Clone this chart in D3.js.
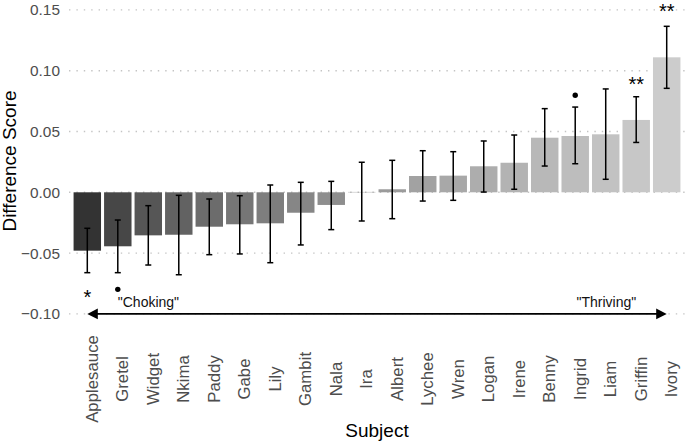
<!DOCTYPE html>
<html>
<head>
<meta charset="utf-8">
<script src="https://cdn.jsdelivr.net/npm/d3@7"></script>
<style>
  html, body { margin: 0; padding: 0; background: #fff; }
  svg { display: block; font-family: "Liberation Sans", Arial, Helvetica, sans-serif; }
</style>
</head>
<body>
<svg id="chart" width="685" height="444"></svg>
<script>
// ---- data ----
const subjects = ["Applesauce","Gretel","Widget","Nkima","Paddy","Gabe","Lily","Gambit","Nala","Ira",
                  "Albert","Lychee","Wren","Logan","Irene","Benny","Ingrid","Liam","Griffin","Ivory"];
const means = [-0.048, -0.0444, -0.0354, -0.0349, -0.0283, -0.0263, -0.0255, -0.0168, -0.0104, 0.0003,
               0.0025, 0.0134, 0.0137, 0.0214, 0.0243, 0.0449, 0.0463, 0.0477, 0.0595, 0.111];
const lower = [-0.0661, -0.0661, -0.0598, -0.0678, -0.0513, -0.0507, -0.0579, -0.0433, -0.0307, -0.0236,
               -0.0217, -0.0072, -0.0066, 0.0002, 0.0025, 0.0216, 0.0235, 0.0107, 0.041, 0.0855];
const upper = [-0.0296, -0.0228, -0.011, -0.0025, -0.0055, -0.0028, 0.006, 0.0082, 0.009, 0.0247,
               0.0263, 0.0342, 0.0334, 0.0422, 0.0471, 0.0688, 0.0701, 0.085, 0.0786, 0.1365];
// significance markers: "*"/"**" as text, "•" (marginal) as a dot
const sigLabels = ["*", "•", "", "", "", "", "", "", "", "", "", "", "", "", "", "", "•", "", "**", "**"];
const sigY = [-0.0826, -0.0798, null, null, null, null, null, null, null, null,
              null, null, null, null, null, null, 0.0798, null, 0.0932, 0.1525];
const yTicks = [-0.10, -0.05, 0.00, 0.05, 0.10, 0.15];
const yDomain = [-0.10, 0.15];
const arrowY = -0.10;
const arrowFrom = "Applesauce", arrowTo = "Ivory";
const annotations = [
  { text: '"Choking"', subject: "Gretel", y: -0.09, anchor: "start" },
  { text: '"Thriving"', subject: "Griffin", y: -0.09, anchor: "end" }
];
const xTitle = "Subject", yTitle = "Difference Score";

// ---- layout ----
const svg = d3.select("#chart");
const plotLeft = 69, plotRight = 685;

const x = d3.scaleBand().domain(subjects).range([plotLeft, plotRight])
  .paddingInner(0.1).paddingOuter(0.15);
const y = d3.scaleLinear().domain(yDomain).range([313.9, 9.9]);

// grey palette like ggplot scale_fill_grey(start=0.2,end=0.8)
function greyColors(n, start, end, gamma) {
  gamma = gamma || 2.2;
  const s = Math.pow(start, gamma), e = Math.pow(end, gamma);
  return d3.range(n).map(i => {
    const v = Math.pow(s + (e - s) * (n === 1 ? 0 : i / (n - 1)), 1 / gamma);
    const c = Math.round(v * 255);
    return d3.rgb(c, c, c).formatHex();
  });
}
const fills = greyColors(subjects.length, 0.2, 0.8);
const color = d3.scaleOrdinal().domain(subjects).range(fills);

const data = subjects.map((s, i) => ({ s, m: means[i], lo: lower[i], hi: upper[i], lab: sigLabels[i], ly: sigY[i] }));
const cxOf = s => x(s) + x.bandwidth() / 2;

// gridlines
svg.append("g").selectAll("line").data(yTicks).join("line")
  .attr("x1", plotLeft).attr("x2", plotRight)
  .attr("y1", d => y(d)).attr("y2", d => y(d))
  .attr("stroke", "#c4c4c4").attr("stroke-width", 1.4)
  .attr("stroke-dasharray", "1.4 6").attr("stroke-linecap", "butt");

// y tick labels
svg.append("g").selectAll("text").data(yTicks).join("text")
  .attr("x", 60).attr("y", d => y(d))
  .attr("dy", "0.36em")
  .attr("text-anchor", "end")
  .attr("font-size", 15.4).attr("fill", "#4d4d4d")
  .text(d => d3.format(".2f")(d));

// bars
svg.append("g").selectAll("rect").data(data).join("rect")
  .attr("x", d => x(d.s)).attr("width", x.bandwidth())
  .attr("y", d => Math.min(y(d.m), y(0)))
  .attr("height", d => Math.abs(y(d.m) - y(0)))
  .attr("fill", d => color(d.s));

// error bars
const cap = 3;
const eg = svg.append("g").attr("stroke", "#000").attr("stroke-width", 1.5);
data.forEach(d => {
  const cx = cxOf(d.s);
  eg.append("line").attr("x1", cx).attr("x2", cx).attr("y1", y(d.lo)).attr("y2", y(d.hi));
  eg.append("line").attr("x1", cx - cap).attr("x2", cx + cap).attr("y1", y(d.lo)).attr("y2", y(d.lo));
  eg.append("line").attr("x1", cx - cap).attr("x2", cx + cap).attr("y1", y(d.hi)).attr("y2", y(d.hi));
});

// significance stars (text)
const starSize = 20;
svg.append("g").selectAll("text").data(data.filter(d => d.lab && d.lab !== "•")).join("text")
  .attr("x", d => cxOf(d.s))
  .attr("y", d => y(d.ly) + 0.58 * starSize)
  .attr("text-anchor", "middle")
  .attr("font-size", starSize)
  .attr("fill", "#000")
  .text(d => d.lab);
// marginal markers (dots)
svg.append("g").selectAll("circle").data(data.filter(d => d.lab === "•")).join("circle")
  .attr("cx", d => cxOf(d.s))
  .attr("cy", d => y(d.ly))
  .attr("r", 2.7)
  .attr("fill", "#000");

// double arrow
const ax1 = cxOf(arrowFrom), ax2 = cxOf(arrowTo), ay = y(arrowY);
const headL = 10.5, headW = 5.3;
svg.append("line").attr("x1", ax1 + headL - 1).attr("x2", ax2 - headL + 1)
  .attr("y1", ay).attr("y2", ay).attr("stroke", "#000").attr("stroke-width", 1.6);
svg.append("path").attr("d", `M${ax1},${ay} L${ax1 + headL},${ay - headW} L${ax1 + headL},${ay + headW} Z`).attr("fill", "#000");
svg.append("path").attr("d", `M${ax2},${ay} L${ax2 - headL},${ay - headW} L${ax2 - headL},${ay + headW} Z`).attr("fill", "#000");

// annotations
svg.append("g").selectAll("text").data(annotations).join("text")
  .attr("x", d => cxOf(d.subject))
  .attr("y", d => y(d.y) + 0.36 * 14)
  .attr("text-anchor", d => d.anchor)
  .attr("font-size", 14).attr("fill", "#111")
  .text(d => d.text);

// x tick labels
svg.append("g").selectAll("text").data(subjects).join("text")
  .attr("transform", d => `translate(${cxOf(d) + 10.5},379) rotate(-90)`)
  .attr("text-anchor", "middle")
  .attr("font-size", 16.8).attr("fill", "#4d4d4d")
  .text(d => d);

// axis titles
svg.append("text").attr("x", (plotLeft + plotRight) / 2).attr("y", 436.5)
  .attr("text-anchor", "middle").attr("font-size", 19).attr("fill", "#000").text(xTitle);
svg.append("text").attr("transform", "translate(16,161) rotate(-90)")
  .attr("text-anchor", "middle").attr("font-size", 19).attr("fill", "#000").text(yTitle);
</script>
</body>
</html>
